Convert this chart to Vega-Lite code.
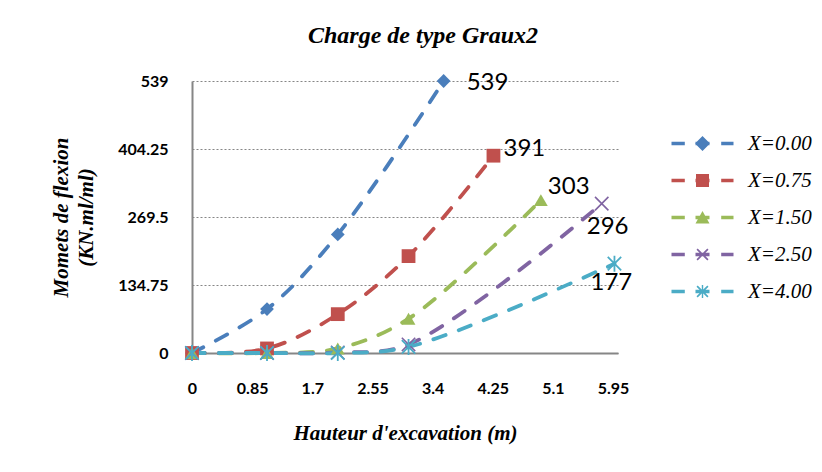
{
  "$schema": "https://vega.github.io/schema/vega-lite/v6.json",
  "width": 426,
  "height": 272,
  "autosize": {"type": "none"},
  "padding": {"left": 192, "top": 81, "right": 204, "bottom": 119},
  "background": "white",
  "title": {
    "text": "Charge de type Graux2",
    "font": "Liberation Serif",
    "fontSize": 24,
    "fontStyle": "italic",
    "fontWeight": "bold",
    "color": "black",
    "frame": "group",
    "anchor": "middle",
    "dx": 18,
    "offset": 4,
    "baseline": "alphabetic"
  },
  "config": {
    "view": {"stroke": null},
    "axis": {
      "labelFont": "Lato",
      "labelFontSize": 16,
      "labelFontWeight": "bold",
      "labelColor": "black",
      "domainColor": "#868686",
      "domainWidth": 2,
      "ticks": false,
      "titleFont": "Liberation Serif",
      "titleFontSize": 21,
      "titleFontStyle": "italic",
      "titleFontWeight": "bold",
      "titleColor": "black",
      "labelOverlap": false,
      "labelFlush": false
    }
  },
  "data": {
    "values": [
      {"series": "X=0.00", "x": 0, "M": 0},
      {"series": "X=0.00", "x": 1.06, "M": 87},
      {"series": "X=0.00", "x": 2.06, "M": 235},
      {"series": "X=0.00", "x": 3.556, "M": 539},
      {"series": "X=0.75", "x": 0, "M": 0},
      {"series": "X=0.75", "x": 1.06, "M": 9},
      {"series": "X=0.75", "x": 2.06, "M": 77},
      {"series": "X=0.75", "x": 3.06, "M": 192},
      {"series": "X=0.75", "x": 4.26, "M": 391},
      {"series": "X=1.50", "x": 0, "M": 0},
      {"series": "X=1.50", "x": 1.06, "M": 0},
      {"series": "X=1.50", "x": 2.06, "M": 9},
      {"series": "X=1.50", "x": 3.06, "M": 68},
      {"series": "X=1.50", "x": 4.93, "M": 303},
      {"series": "X=2.50", "x": 0, "M": 0},
      {"series": "X=2.50", "x": 1.06, "M": 0},
      {"series": "X=2.50", "x": 2.06, "M": 1},
      {"series": "X=2.50", "x": 3.06, "M": 17},
      {"series": "X=2.50", "x": 5.79, "M": 296},
      {"series": "X=4.00", "x": 0, "M": 0},
      {"series": "X=4.00", "x": 1.06, "M": 0},
      {"series": "X=4.00", "x": 2.06, "M": 0},
      {"series": "X=4.00", "x": 3.06, "M": 12},
      {"series": "X=4.00", "x": 5.97, "M": 177}
    ]
  },
  "encoding": {
    "x": {
      "field": "x",
      "type": "quantitative",
      "scale": {"domain": [0, 6.02], "nice": false, "zero": false},
      "axis": {
        "values": [0, 0.85, 1.7, 2.55, 3.4, 4.25, 5.1, 5.95],
        "labelExpr": "toString(datum.value)",
        "title": "Hauteur d'excavation (m)",
        "grid": false,
        "labelPadding": 27,
        "titleX": 213,
        "titleY": 80,
        "titleAlign": "center",
        "titleBaseline": "middle"
      }
    },
    "y": {
      "field": "M",
      "type": "quantitative",
      "scale": {"domain": [0, 539], "nice": false},
      "axis": {
        "values": [0, 134.75, 269.5, 404.25, 539],
        "labelExpr": "toString(datum.value)",
        "title": ["Momets de flexion", "(KN.ml/ml)"],
        "grid": true,
        "gridDash": [2, 2],
        "gridColor": "#868686",
        "gridWidth": 1.2,
        "labelPadding": 24,
        "titleX": -130.5,
        "titleY": 136,
        "titleAngle": 270,
        "titleAlign": "center",
        "titleBaseline": "middle",
        "titleLineHeight": 25
      }
    }
  },
  "layer": [
    {
      "mark": {"type": "line", "strokeDash": [13, 14], "strokeWidth": 3.8, "strokeCap": "round", "interpolate": "catmull-rom"},
      "encoding": {
        "color": {
          "field": "series",
          "type": "nominal",
          "scale": {
            "domain": ["X=0.00", "X=0.75", "X=1.50", "X=2.50", "X=4.00"],
            "range": ["#4A7EBB", "#C0504D", "#9BBB59", "#8064A2", "#4BACC6"]
          },
          "legend": {
            "orient": "none",
            "legendX": 500,
            "legendY": 52,
            "title": null,
            "padding": 0,
            "labelFont": "Liberation Serif",
            "labelFontSize": 21,
            "labelFontStyle": "italic",
            "labelColor": "black",
            "labelOffset": 35,
            "labelBaseline": "middle",
            "symbolSize": 400,
            "rowPadding": 15,
            "encode": {
              "symbols": {
                "update": {
                  "shape": {"signal": "datum.value === 'X=0.00' ? 'M-3.1,-0.17H-1.77V0.17H-3.1ZM-0.7,-0.17H0.7V0.17H-0.7ZM1.87,-0.17H3.1V0.17H1.87ZM-0.75,0L0,-0.75L0.75,0L0,0.75Z' : datum.value === 'X=0.75' ? 'M-3.1,-0.17H-1.77V0.17H-3.1ZM-0.7,-0.17H0.7V0.17H-0.7ZM1.87,-0.17H3.1V0.17H1.87ZM-0.65,-0.65H0.65V0.65H-0.65Z' : datum.value === 'X=1.50' ? 'M-3.1,-0.17H-1.77V0.17H-3.1ZM-0.7,-0.17H0.7V0.17H-0.7ZM1.87,-0.17H3.1V0.17H1.87ZM0,-0.65L0.7,0.6L-0.7,0.6Z' : datum.value === 'X=2.50' ? 'M-3.1,-0.17H-1.77V0.17H-3.1ZM-0.7,-0.17H0.7V0.17H-0.7ZM1.87,-0.17H3.1V0.17H1.87ZM-0.6,-0.48L-0.48,-0.6L0.6,0.48L0.48,0.6ZM0.48,-0.6L0.6,-0.48L-0.48,0.6L-0.6,0.48Z' : 'M-3.1,-0.17H-1.77V0.17H-3.1ZM-0.7,-0.17H0.7V0.17H-0.7ZM1.87,-0.17H3.1V0.17H1.87ZM-0.6,-0.48L-0.48,-0.6L0.6,0.48L0.48,0.6ZM0.48,-0.6L0.6,-0.48L-0.48,0.6L-0.6,0.48ZM-0.07,-0.65H0.07V0.65H-0.07Z'"},
                  "fill": {"signal": "scale('color', datum.value)"},
                  "stroke": {"value": "transparent"},
                  "strokeWidth": {"value": 0},
                  "opacity": {"value": 1}
                }
              }
            }
          }
        }
      }
    },
    {
      "transform": [{"filter": {"field": "series", "equal": "X=0.00"}}],
      "mark": {"type": "point", "shape": "diamond", "filled": true, "size": 190, "color": "#4A7EBB", "opacity": 1}
    },
    {
      "transform": [{"filter": {"field": "series", "equal": "X=0.75"}}],
      "mark": {"type": "point", "shape": "square", "filled": true, "size": 190, "color": "#C0504D", "opacity": 1}
    },
    {
      "transform": [{"filter": {"field": "series", "equal": "X=1.50"}}],
      "mark": {"type": "point", "shape": "triangle-up", "filled": true, "size": 190, "color": "#9BBB59", "opacity": 1}
    },
    {
      "transform": [{"filter": {"field": "series", "equal": "X=2.50"}}],
      "mark": {"type": "point", "shape": "M-1,-1L1,1M-1,1L1,-1", "filled": false, "size": 180, "color": "#8064A2", "strokeWidth": 1.6, "opacity": 1}
    },
    {
      "transform": [{"filter": {"field": "series", "equal": "X=4.00"}}],
      "mark": {"type": "point", "shape": "M-1,-1L1,1M-1,1L1,-1M0,-1.2L0,1.2", "filled": false, "size": 180, "color": "#4BACC6", "strokeWidth": 1.8, "opacity": 1}
    },
    {
      "transform": [{"filter": {"field": "M", "equal": 539}}],
      "mark": {"type": "text", "font": "Lato", "fontSize": 24, "color": "black", "align": "left", "baseline": "middle", "dx": 23, "dy": 2},
      "encoding": {"text": {"field": "M", "type": "quantitative", "format": "d"}}
    },
    {
      "transform": [{"filter": {"field": "M", "equal": 391}}],
      "mark": {"type": "text", "font": "Lato", "fontSize": 24, "color": "black", "align": "left", "baseline": "middle", "dx": 10, "dy": -7},
      "encoding": {"text": {"field": "M", "type": "quantitative", "format": "d"}}
    },
    {
      "transform": [{"filter": {"field": "M", "equal": 303}}],
      "mark": {"type": "text", "font": "Lato", "fontSize": 24, "color": "black", "align": "left", "baseline": "middle", "dx": 7, "dy": -13},
      "encoding": {"text": {"field": "M", "type": "quantitative", "format": "d"}}
    },
    {
      "transform": [{"filter": {"field": "M", "equal": 296}}],
      "mark": {"type": "text", "font": "Lato", "fontSize": 24, "color": "black", "align": "left", "baseline": "middle", "dx": -15, "dy": 23},
      "encoding": {"text": {"field": "M", "type": "quantitative", "format": "d"}}
    },
    {
      "transform": [{"filter": {"field": "M", "equal": 177}}],
      "mark": {"type": "text", "font": "Lato", "fontSize": 24, "color": "black", "align": "left", "baseline": "middle", "dx": -24, "dy": 19},
      "encoding": {"text": {"field": "M", "type": "quantitative", "format": "d"}}
    }
  ]
}
